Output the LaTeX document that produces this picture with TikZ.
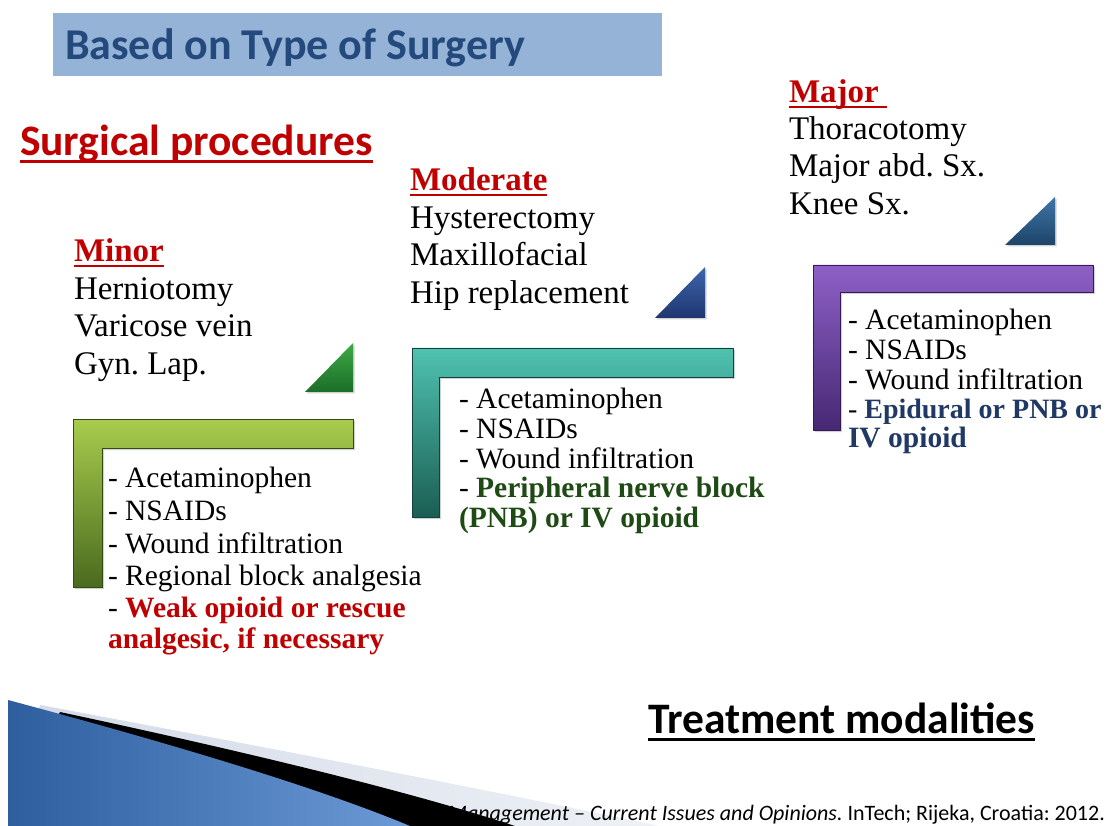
\documentclass[tikz,border=0pt]{standalone}
\usepackage{fontspec}
\setmainfont{Liberation Serif}
\newfontfamily\calib{Carlito}
\usetikzlibrary{shadows}
\frenchspacing
\definecolor{titlebg}{HTML}{95B3D7}
\definecolor{titlefg}{HTML}{23497D}
\definecolor{redt}{HTML}{C00000}
\definecolor{greent}{HTML}{1E4A14}
\definecolor{navyt}{HTML}{1F3864}
\definecolor{gtop}{HTML}{A8CC4E}
\definecolor{gbot}{HTML}{4A6A1E}
\definecolor{ttop}{HTML}{4FC2B0}
\definecolor{tbot}{HTML}{1B5E53}
\definecolor{ptop}{HTML}{8D60C6}
\definecolor{pbot}{HTML}{472874}
\definecolor{tgtop}{HTML}{3DAA45}
\definecolor{tgbot}{HTML}{1C6E28}
\definecolor{tbtop}{HTML}{3E64AC}
\definecolor{tbbot}{HTML}{1E3670}
\definecolor{tstop}{HTML}{3E76A8}
\definecolor{tsbot}{HTML}{1E4468}
\definecolor{swl}{HTML}{2F5E9F}
\definecolor{swr}{HTML}{6B9AD6}
\definecolor{lband}{HTML}{D3DAE8}
\definecolor{lbandr}{HTML}{EEF1F6}
\newcommand\headsz{\fontsize{33}{37}\selectfont}
\newcommand\listsz{\fontsize{29.5}{33}\selectfont}
\begin{document}
\begin{tikzpicture}[x=1pt,y=-1pt,
  txt/.style={anchor=base west, inner sep=0pt, outer sep=0pt},
  head/.style={txt, font=\headsz},
  lst/.style={txt, font=\listsz},
  ulred/.style={redt, line width=2pt},
  lshape/.style={draw=#1!70!black, line width=0.6pt, drop shadow={shadow xshift=2pt, shadow yshift=-2pt, opacity=0.35}},
  tri/.style={drop shadow={shadow xshift=1.5pt, shadow yshift=-1.5pt, opacity=0.35}}]
\useasboundingbox (0,0) rectangle (1109,826);
\fill[white] (0,0) rectangle (1109,826);

% title bar
\node[fill=titlebg, minimum width=609pt, minimum height=63pt, anchor=north west, inner sep=0pt] (tbar) at (53,13) {};
\node[txt, font=\calib\bfseries\fontsize{44}{50}\selectfont, text=titlefg] (title) at (65,60) {Based on Type of Surgery};

% surgical procedures
\node[txt, font=\calib\bfseries\fontsize{43.5}{50}\selectfont, text=redt] (surg) at (20,156) {Surgical procedures};
\draw[redt, line width=3pt] ([yshift=-6pt]surg.base west) -- ([yshift=-6pt]surg.base east);

% Minor
\node[head, font=\headsz\bfseries, text=redt] (minor) at (74,262) {Minor};
\draw[ulred] ([yshift=-4pt]minor.base west) -- ([yshift=-4pt]minor.base east);
\node[head] (m1) at (74,300) {Herniotomy};
\node[head] (m2) at (74,337) {Varicose vein};
\node[head] (m3) at (74,375) {Gyn. Lap.};

% Moderate
\node[head, font=\headsz\bfseries, text=redt] (moder) at (410,191) {Moderate};
\draw[ulred] ([yshift=-4pt]moder.base west) -- ([yshift=-4pt]moder.base east);
\node[head] (d1) at (410,229) {Hysterectomy};
\node[head] (d2) at (410,266) {Maxillofacial};
\node[head] (d3) at (410,304) {Hip replacement};

% Major
\node[head, font=\headsz\bfseries, text=redt] (major) at (789,103) {Major};
\draw[ulred] ([yshift=-4pt]major.base west) -- ([yshift=-4pt,xshift=8pt]major.base east);
\node[head] (j1) at (789,140) {Thoracotomy};
\node[head] (j2) at (789,177) {Major abd. Sx.};
\node[head] (j3) at (789,215) {Knee Sx.};

% triangles
\path[tri, top color=tgtop, bottom color=tgbot] (305,392) -- (353,392) -- (353,343) -- cycle;
\path[tri, top color=tbtop, bottom color=tbbot] (655,318) -- (705,318) -- (705,267) -- cycle;
\path[tri, top color=tstop, bottom color=tsbot] (1005,245) -- (1055,245) -- (1055,197) -- cycle;

% L shapes
\path[lshape=gbot, top color=gtop, bottom color=gbot] (73,419) -- (353,419) -- (353,448) -- (102,448) -- (102,587) -- (73,587) -- cycle;
\path[lshape=tbot, top color=ttop, bottom color=tbot] (412,348) -- (733,348) -- (733,377) -- (439,377) -- (439,517) -- (412,517) -- cycle;
\path[lshape=pbot, top color=ptop, bottom color=pbot] (813,265) -- (1093,265) -- (1093,292) -- (840,292) -- (840,430) -- (813,430) -- cycle;

% green list
\node[lst] (g1) at (108,487) {- Acetaminophen};
\node[lst] (g2) at (108,520) {- NSAIDs};
\node[lst] (g3) at (108,553) {- Wound infiltration};
\node[lst] (g4) at (108,585) {- Regional block analgesia};
\node[lst] (g5) at (108,617) {- \textcolor{redt}{\bfseries Weak opioid or rescue}};
\node[lst, font=\listsz\bfseries, text=redt] (g6) at (108,648) {analgesic, if necessary};

% teal list
\node[lst] (t1) at (459,408) {- Acetaminophen};
\node[lst] (t2) at (459,438) {- NSAIDs};
\node[lst] (t3) at (459,468) {- Wound infiltration};
\node[lst] (t4) at (459,497) {- \textcolor{greent}{\bfseries Peripheral nerve block}};
\node[lst, font=\listsz\bfseries, text=greent] (t5) at (459,527) {(PNB) or IV opioid};

% purple list
\node[lst] (p1) at (848,330) {- Acetaminophen};
\node[lst] (p2) at (848,360) {- NSAIDs};
\node[lst] (p3) at (848,390) {- Wound infiltration};
\node[lst, font=\fontsize{28}{33}\selectfont] (p4) at (848,418) {- \textcolor{navyt}{\bfseries Epidural or PNB or}};
\node[lst, font=\listsz\bfseries, text=navyt] (p5) at (848,447) {IV opioid};

% treatment modalities
\node[txt, font=\calib\bfseries\fontsize{43.5}{50}\selectfont] (treat) at (648,733) {Treatment modalities};
\draw[black, line width=3pt] ([yshift=-6pt]treat.base west) -- ([yshift=-6pt]treat.base east);

% bottom swoosh: light band
\path[left color=lband, right color=lbandr] (40,705) .. controls (200,735) and (450,782) .. (660,826) -- (8,826) -- cycle;
% black band
\fill[black] (60,712) .. controls (200,742) and (390,785) .. (515,826) -- (8,826) -- cycle;
% blue
\path[left color=swl, right color=swr] (8,700) .. controls (120,730) and (300,780) .. (410,826) -- (8,826) -- cycle;
% citation (black text, its start lost on the black band)
\node[anchor=base east, inner sep=0pt, font=\calib\fontsize{22}{26}\selectfont] (cite) at (1105,820) {\textit{in Management – Current Issues and Opinions.} InTech; Rijeka, Croatia: 2012.};
\end{tikzpicture}
\end{document}
